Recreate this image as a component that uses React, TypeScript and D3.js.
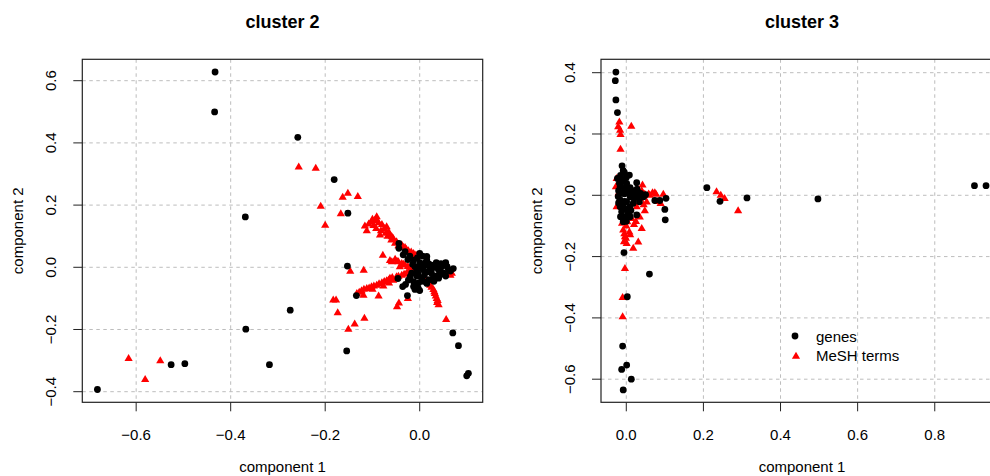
import React from "react";
import * as d3 from "d3";

// ---------- data ----------
const titles = ["cluster 2", "cluster 3"];
const xLabel = "component 1";
const yLabel = "component 2";
const legendLabels = ["genes", "MeSH terms"];

const xTicks2 = [-0.6, -0.4, -0.2, 0.0];
const yTicks2 = [-0.4, -0.2, 0.0, 0.2, 0.4, 0.6];
const xTicks3 = [0.0, 0.2, 0.4, 0.6, 0.8];
const yTicks3 = [-0.6, -0.4, -0.2, 0.0, 0.2, 0.4];

const xDomain2: [number, number] = [-0.714, 0.1333];
const yDomain2: [number, number] = [-0.4341, 0.6688];
const xDomain3: [number, number] = [-0.0656, 0.977];
const yDomain3: [number, number] = [-0.6754, 0.4437];

const genes2: [number, number][] = [
  [-0.433, 0.628], [-0.434, 0.4995], [-0.258, 0.418], [-0.181, 0.282],
  [-0.369, 0.162], [-0.152, 0.174], [-0.153, 0.004], [-0.274, -0.138],
  [-0.368, -0.199], [-0.1545, -0.269], [-0.526, -0.313], [-0.497, -0.31],
  [-0.318, -0.313], [-0.682, -0.393], [0.07, -0.211], [0.082, -0.252],
  [0.0995, -0.349], [0.103, -0.341], [-0.134, -0.091],
  [-0.044, 0.077], [-0.044, 0.061], [-0.031, 0.05], [-0.021, 0.036],
  [-0.013, 0.023], [0.006, 0.036], [0.015, 0.023], [-0.01, 0.002],
  [0.001, -0.003], [0.011, 0.007], [0.022, -0.003], [0.029, 0.007],
  [0.04, -0.009], [0.05, 0.007], [0.055, 0.015], [0.061, -0.009],
  [0.071, -0.004], [0.043, -0.025], [0.029, -0.032], [0.015, -0.052],
  [0.004, -0.035], [-0.006, -0.028], [-0.013, -0.046], [-0.003, -0.068],
  [-0.01, -0.071], [-0.013, -0.062], [-0.024, -0.041], [-0.026, -0.091],
  [-0.036, -0.062], [-0.046, -0.036], [-0.017, -0.019], [0.025, -0.019],
  [0.036, -0.028], [0.008, -0.009], [0.018, -0.014], [-0.006, -0.014],
  [-0.005, 0.03], [0.0, 0.015], [0.012, 0.015], [0.02, 0.01], [0.033, 0.0],
  [0.045, 0.0], [0.058, 0.002], [0.065, -0.012], [0.05, -0.018], [0.04, -0.035],
  [0.03, -0.045], [0.02, -0.04], [0.008, -0.045], [-0.002, -0.05], [-0.008, -0.06],
  [0.0, -0.075], [-0.02, -0.03], [-0.015, 0.01], [-0.025, 0.025], [-0.035, 0.04],
  [0.01, -0.025], [0.025, -0.005], [-0.005, -0.005], [0.045, 0.012], [0.035, 0.015],
  [0.015, 0.035], [0.0, 0.045], [-0.004, -0.02], [0.055, -0.028], [-0.03, -0.055],
];

const mesh2: [number, number][] = [
  [-0.256, 0.323], [-0.22, 0.319], [-0.2095, 0.197], [-0.2, 0.136],
  [-0.163, 0.226], [-0.152, 0.239], [-0.131, 0.228], [-0.167, 0.173],
  [-0.147, -0.012], [-0.1185, -0.009], [-0.183, -0.105], [-0.177, -0.105],
  [-0.1735, -0.146], [-0.151, -0.199], [-0.1376, -0.182], [-0.117, -0.163],
  [-0.087, -0.092], [-0.078, 0.039], [-0.048, -0.126], [-0.044, -0.114],
  [-0.025, -0.1], [0.056, -0.167], [-0.616, -0.293], [-0.549, -0.3],
  [-0.581, -0.36],
  [-0.116, 0.133], [-0.112, 0.118], [-0.102, 0.147], [-0.095, 0.152],
  [-0.091, 0.163], [-0.087, 0.144], [-0.08, 0.138], [-0.084, 0.104],
  [-0.075, 0.125], [-0.066, 0.115], [-0.063, 0.104], [-0.056, 0.093],
  [-0.049, 0.083], [-0.038, 0.072], [-0.031, 0.064], [-0.024, 0.054],
  [-0.013, 0.045], [-0.059, 0.099], [-0.07, 0.131],
  [-0.108, 0.14], [-0.098, 0.135], [-0.092, 0.125], [-0.082, 0.118],
  [-0.072, 0.11], [-0.068, 0.1], [-0.06, 0.088], [-0.052, 0.078],
  [-0.045, 0.07], [-0.035, 0.065], [-0.028, 0.058], [-0.018, 0.05],
  [-0.008, 0.04], [-0.1, 0.155], [-0.09, 0.15],
  [-0.059, 0.018], [-0.052, 0.026], [-0.045, 0.018], [-0.038, 0.013],
  [-0.031, 0.0075], [-0.042, 0.002], [-0.02, -0.003], [-0.01, -0.009],
  [-0.063, 0.022], [-0.048, 0.02], [-0.034, 0.01], [-0.025, 0.003], [-0.015, -0.005],
  [-0.133, -0.084], [-0.123, -0.075], [-0.112, -0.068], [-0.102, -0.062],
  [-0.091, -0.057], [-0.08, -0.049], [-0.077, -0.06], [-0.07, -0.043],
  [-0.063, -0.035], [-0.056, -0.041], [-0.049, -0.03], [-0.038, -0.025],
  [-0.028, -0.019], [-0.119, -0.089],
  [-0.128, -0.08], [-0.118, -0.07], [-0.107, -0.066], [-0.097, -0.06],
  [-0.086, -0.052], [-0.075, -0.045], [-0.066, -0.04], [-0.058, -0.032],
  [-0.045, -0.028], [-0.033, -0.022], [-0.022, -0.015], [-0.015, -0.012],
  [-0.1, -0.07], [-0.065, -0.05],
  [0.015, -0.041], [0.022, -0.057], [0.029, -0.071], [0.032, -0.084],
  [0.036, -0.1], [0.037, -0.113], [0.068, -0.019],
  [0.012, -0.035], [0.018, -0.048], [0.025, -0.064], [0.031, -0.078],
  [0.034, -0.092], [0.038, -0.106], [0.04, -0.12], [0.06, -0.015], [0.065, -0.025],
];

const genes3: [number, number][] = [
  [-0.027, 0.402], [-0.0285, 0.374], [-0.027, 0.311], [-0.023, 0.27],
  [0.209, 0.025], [0.243, -0.0196], [0.313, -0.0087], [0.497, -0.012],
  [0.903, 0.0315], [0.933, 0.0315], [0.06, -0.257], [-0.006, -0.187],
  [0.0026, -0.331], [-0.0095, -0.492], [-0.012, -0.568], [0.001, -0.554],
  [0.013, -0.6], [-0.008, -0.635], [0.103, -0.0098], [0.1, -0.046],
  [0.101, -0.08], [0.074, -0.017], [0.087, -0.017], [0.034, -0.021],
  [0.027, -0.064], [0.037, 0.0065], [0.027, 0.041], [0.008, 0.066],
  [-0.011, 0.096], [-0.008, 0.08], [-0.023, 0.055],
  [-0.016, 0.028], [-0.012, 0.0065], [-0.0035, 0.017], [0.005, 0.0065],
  [0.014, 0.012], [0.0225, 0.001], [0.031, 0.0087], [-0.016, -0.015],
  [-0.008, -0.032], [0.001, -0.021], [0.0095, -0.037], [-0.012, -0.053],
  [-0.0035, -0.07], [-0.008, -0.086], [0.005, -0.059], [0.018, -0.026],
  [-0.016, -0.037], [0.001, 0.039], [-0.008, 0.05], [-0.021, -0.004],
  [-0.018, 0.04], [-0.01, 0.045], [0.0, 0.03], [0.01, 0.025], [0.02, 0.015],
  [0.028, 0.02], [-0.02, 0.015], [-0.005, 0.005], [0.01, -0.005], [0.02, -0.01],
  [0.03, -0.005], [-0.02, -0.025], [-0.01, -0.045], [0.0, -0.045], [0.012, -0.05],
  [-0.015, -0.07], [0.0, -0.085], [0.01, -0.07], [-0.005, -0.02], [0.015, 0.005],
  [0.045, -0.005], [0.05, 0.002], [-0.015, 0.065], [-0.005, 0.075], [0.0, 0.058],
];

const mesh3: [number, number][] = [
  [-0.018, 0.24], [-0.021, 0.224], [-0.016, 0.213], [-0.015, 0.199],
  [0.013, 0.226], [-0.015, 0.151], [0.234, 0.012], [0.245, 0.001],
  [0.255, -0.0098], [0.29, -0.05], [0.042, 0.034], [0.074, 0.0087],
  [0.096, 0.0043], [0.048, 0.0043], [0.053, -0.021], [0.089, -0.026],
  [0.048, -0.05], [0.04, -0.108], [0.031, -0.152], [0.018, -0.172],
  [-0.0035, -0.238], [-0.0095, -0.333], [-0.0095, -0.396], [-0.025, 0.055],
  [-0.027, 0.028], [-0.025, -0.037], [-0.008, -0.113], [-0.0035, -0.135],
  [-0.006, -0.151], [0.001, -0.157], [-0.001, -0.14], [-0.011, -0.091],
  [0.0026, -0.086], [0.014, -0.075], [0.035, -0.07], [0.077, 0.004],
  [0.061, 0.001], [0.027, -0.037], [0.035, -0.0098], [0.008, -0.119],
  [-0.02, 0.008], [0.058, 0.005], [0.068, 0.009], [0.082, -0.02], [0.045, -0.03],
  [0.04, 0.015], [0.0, -0.1], [-0.005, -0.125], [0.01, -0.128], [0.02, -0.095],
  [0.025, -0.085],
];

// ---------- drawing ----------
const FONT = "'Liberation Sans', Arial, Helvetica, sans-serif";
const R = 3.4;
const triPath = (cx: number, cy: number) => {
  const h = 7, w = 8.2;
  return `M${cx},${cy - h * 0.62}L${cx + w / 2},${cy + h * 0.38}L${cx - w / 2},${cy + h * 0.38}Z`;
};

type PanelProps = {
  title: string;
  left: number; right: number; top: number; bottom: number;
  xDomain: [number, number]; yDomain: [number, number];
  xTicks: number[]; yTicks: number[];
  genes: [number, number][]; mesh: [number, number][];
  legend?: boolean;
  clipId: string;
};

function Panel(p: PanelProps) {
  const x = d3.scaleLinear().domain(p.xDomain).range([p.left, p.right]);
  const y = d3.scaleLinear().domain(p.yDomain).range([p.bottom, p.top]);
  const fmt = d3.format(".1f");
  const lab = (v: number) => fmt(v).replace("-", "\u2212");
  const cx = (p.left + p.right) / 2;
  const cy = (p.top + p.bottom) / 2;
  const tick = 9;
  return (
    <g>
      <defs>
        <clipPath id={p.clipId}>
          <rect x={p.left} y={p.top} width={p.right - p.left} height={p.bottom - p.top} />
        </clipPath>
      </defs>
      <text x={cx} y={27.5} textAnchor="middle" fontFamily={FONT} fontWeight="bold" fontSize={18}>
        {p.title}
      </text>
      <g stroke="#bdbdbd" strokeWidth={1} strokeDasharray="3.5,3.5">
        {p.xTicks.map((t) => (
          <line key={"gx" + t} x1={x(t)} x2={x(t)} y1={p.top} y2={p.bottom} />
        ))}
        {p.yTicks.map((t) => (
          <line key={"gy" + t} x1={p.left} x2={p.right} y1={y(t)} y2={y(t)} />
        ))}
      </g>
      <g clipPath={`url(#${p.clipId})`}>
        {p.mesh.map((d, i) => (
          <path key={"m" + i} d={triPath(x(d[0]), y(d[1]))} fill="#ff0000" />
        ))}
        {p.genes.map((d, i) => (
          <circle key={"g" + i} cx={x(d[0])} cy={y(d[1])} r={R} fill="#000" />
        ))}
      </g>
      <rect x={p.left} y={p.top} width={p.right - p.left} height={p.bottom - p.top}
        fill="none" stroke="#222" strokeWidth={1.2} />
      <g stroke="#222" strokeWidth={1}>
        {p.xTicks.map((t) => (
          <line key={"xt" + t} x1={x(t)} x2={x(t)} y1={p.bottom} y2={p.bottom + tick} />
        ))}
        {p.yTicks.map((t) => (
          <line key={"yt" + t} x1={p.left} x2={p.left - tick} y1={y(t)} y2={y(t)} />
        ))}
      </g>
      <g fontFamily={FONT} fontSize={15} fill="#000">
        {p.xTicks.map((t) => (
          <text key={"xl" + t} x={x(t)} y={440} textAnchor="middle">{lab(t)}</text>
        ))}
        {p.yTicks.map((t) => (
          <text key={"yl" + t} transform={`translate(${p.left - 26},${y(t)}) rotate(-90)`}
            textAnchor="middle">{lab(t)}</text>
        ))}
        <text x={cx} y={472} textAnchor="middle">{xLabel}</text>
        <text transform={`translate(${p.left - 59},${cy}) rotate(-90)`} textAnchor="middle">{yLabel}</text>
      </g>
      {p.legend && (
        <g fontFamily={FONT} fontSize={15}>
          <circle cx={795} cy={336} r={R} fill="#000" />
          <text x={816} y={342}>{legendLabels[0]}</text>
          <path d={triPath(796, 356)} fill="#ff0000" />
          <text x={816} y={361}>{legendLabels[1]}</text>
        </g>
      )}
    </g>
  );
}

export default function App() {
  return (
    <div style={{ position: "absolute", left: 0, top: 0, width: 990, height: 476, overflow: "hidden", background: "#fff" }}>
      <svg width={990} height={476} style={{ display: "block" }}>
        <rect width={990} height={476} fill="#fff" />
        <Panel title={titles[0]} left={82.3} right={482.7} top={59.3} bottom={402.3}
          xDomain={xDomain2} yDomain={yDomain2} xTicks={xTicks2} yTicks={yTicks2}
          genes={genes2} mesh={mesh2} clipId="c2" />
        <Panel title={titles[1]} left={601} right={1003} top={59.3} bottom={402.3}
          xDomain={xDomain3} yDomain={yDomain3} xTicks={xTicks3} yTicks={yTicks3}
          genes={genes3} mesh={mesh3} legend clipId="c3" />
      </svg>
    </div>
  );
}
